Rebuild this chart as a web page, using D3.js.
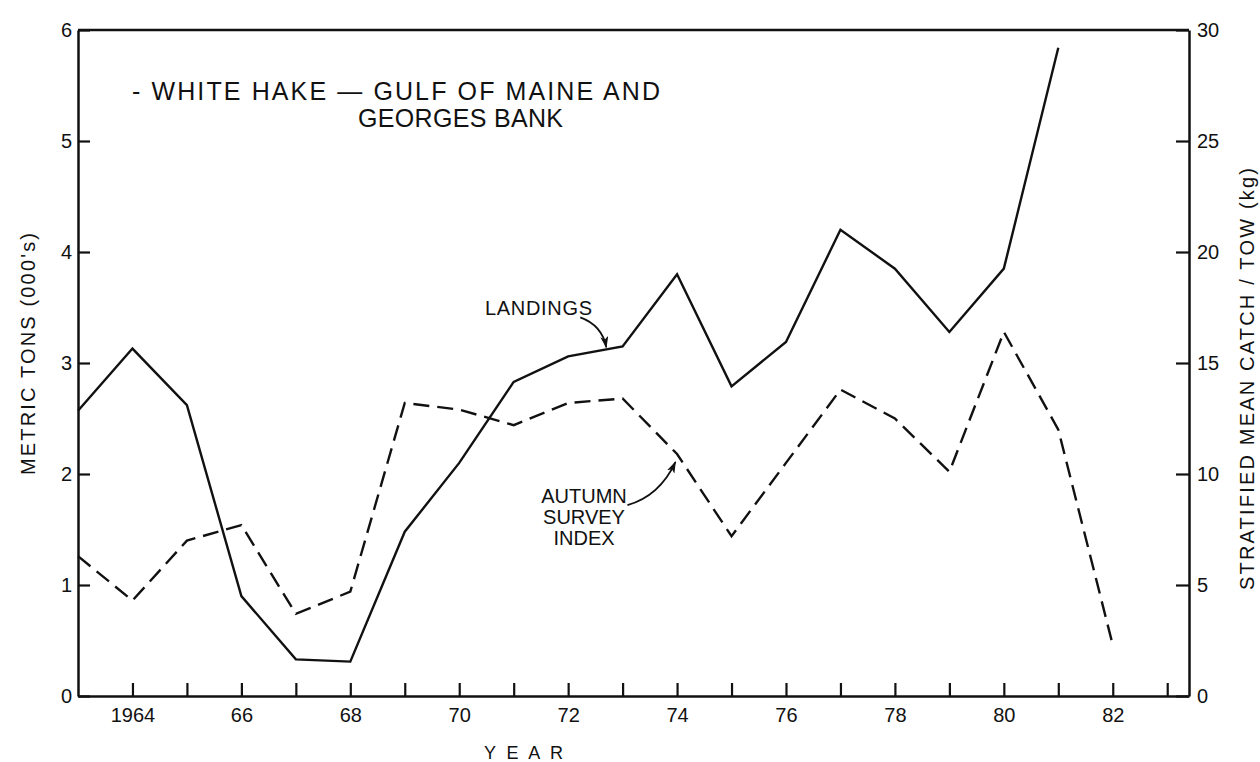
<!DOCTYPE html>
<html>
<head>
<meta charset="utf-8">
<script src="https://cdn.jsdelivr.net/npm/d3@7"></script>
<style>
  html, body { margin: 0; padding: 0; background: #fff; }
  svg text { font-family: "Liberation Sans", Arial, sans-serif; fill: #111; }
</style>
</head>
<body>
<svg id="chart" width="1260" height="762"></svg>
<script>
// ---- data ----
const landingYears = [1963,1964,1965,1966,1967,1968,1969,1970,1971,1972,1973,1974,1975,1976,1977,1978,1979,1980,1981];
const landings     = [2.57,3.13,2.62,0.90,0.33,0.31,1.48,2.10,2.83,3.06,3.15,3.80,2.79,3.19,4.20,3.85,3.28,3.85,5.84];

const surveyYears  = [1963,1964,1965,1966,1967,1968,1969,1970,1971,1972,1973,1974,1975,1976,1977,1978,1979,1980,1981,1982];
const surveyIndex  = [6.3,4.3,7.0,7.7,3.7,4.7,13.2,12.9,12.2,13.2,13.4,10.9,7.2,10.5,13.8,12.5,10.1,16.4,12.0,2.3];

const leftTicks   = [0,1,2,3,4,5,6];
const rightTicks  = [0,5,10,15,20,25,30];
const xTickYears  = [1964,1965,1966,1967,1968,1969,1970,1971,1972,1973,1974,1975,1976,1977,1978,1979,1980,1981,1982,1983];
const xTickLabels = ["1964","","66","","68","","70","","72","","74","","76","","78","","80","","82",""];

const titleLines   = ["- WHITE HAKE \u2014 GULF OF MAINE AND", "GEORGES BANK"];
const leftTitle    = "METRIC TONS (000's)";
const rightTitle   = "STRATIFIED MEAN CATCH / TOW (kg)";
const xTitle       = "Y E A R";
const landingLabel = "LANDINGS";
const surveyLabel  = ["AUTUMN", "SURVEY", "INDEX"];

// ---- scales ----
const svg = d3.select("#chart");
const x  = d3.scaleLinear().domain([1963, 1983.4]).range([78, 1189]);
const yL = d3.scaleLinear().domain([0, 6]).range([696, 30]);
const yR = d3.scaleLinear().domain([0, 30]).range([696, 30]);

const AX_W = 2.5;

// ---- axes ----
const gLeft = svg.append("g").attr("transform", `translate(${x.range()[0]},0)`)
  .call(d3.axisLeft(yL).tickValues(leftTicks).tickFormat(d3.format("d"))
        .tickSizeInner(-12).tickSizeOuter(0).tickPadding(6));
const gRight = svg.append("g").attr("transform", `translate(${x.range()[1]},0)`)
  .call(d3.axisRight(yR).tickValues(rightTicks).tickFormat(d3.format("d"))
        .tickSizeInner(-13).tickSizeOuter(0).tickPadding(8));
const gBottom = svg.append("g").attr("transform", `translate(0,${yL(0)})`)
  .call(d3.axisBottom(x).tickValues(xTickYears).tickFormat((d, i) => xTickLabels[i])
        .tickSizeInner(-13).tickSizeOuter(0).tickPadding(12));

[gLeft, gRight, gBottom].forEach(g => {
  g.select(".domain").attr("stroke", "#111").attr("stroke-width", AX_W);
  g.selectAll(".tick line").attr("stroke", "#111").attr("stroke-width", 2.2);
  g.selectAll(".tick text").attr("font-size", 20).attr("fill", "#111")
    .style("font-family", '"Liberation Sans", Arial, sans-serif');
});

// top frame line
svg.append("line")
  .attr("x1", x.range()[0]).attr("x2", x.range()[1])
  .attr("y1", yL(6)).attr("y2", yL(6))
  .attr("stroke", "#111").attr("stroke-width", AX_W);

// ---- series ----
const lineL = d3.line().x((d, i) => x(landingYears[i])).y(d => yL(d));
const lineR = d3.line().x((d, i) => x(surveyYears[i])).y(d => yR(d));

svg.append("path").datum(landings)
  .attr("d", lineL).attr("fill", "none")
  .attr("stroke", "#111").attr("stroke-width", 2.4).attr("stroke-linejoin", "miter");

svg.append("path").datum(surveyIndex)
  .attr("d", lineR).attr("fill", "none")
  .attr("stroke", "#111").attr("stroke-width", 2.4)
  .attr("stroke-dasharray", "16,8").attr("stroke-linejoin", "miter");

// ---- titles ----
svg.append("text").attr("x", 132).attr("y", 100).attr("font-size", 25)
  .attr("textLength", 528).attr("lengthAdjust", "spacing").text(titleLines[0]);
svg.append("text").attr("x", 358).attr("y", 127).attr("font-size", 25)
  .attr("textLength", 205).attr("lengthAdjust", "spacing").text(titleLines[1]);

svg.append("text").attr("transform", "translate(35,354) rotate(-90)")
  .attr("text-anchor", "middle").attr("font-size", 20)
  .attr("textLength", 242).attr("lengthAdjust", "spacing").text(leftTitle);

svg.append("text").attr("transform", "translate(1254,379) rotate(-90)")
  .attr("text-anchor", "middle").attr("font-size", 20)
  .attr("textLength", 422).attr("lengthAdjust", "spacing").text(rightTitle);

svg.append("text").attr("x", 484).attr("y", 759).attr("font-size", 18)
  .attr("textLength", 79).attr("lengthAdjust", "spacing").text(xTitle);

// ---- annotations ----
const defs = svg.append("defs");
defs.append("marker").attr("id", "ah").attr("viewBox", "0 0 12 8")
  .attr("refX", 11).attr("refY", 4).attr("markerWidth", 12).attr("markerHeight", 8)
  .attr("markerUnits", "userSpaceOnUse").attr("orient", "auto")
  .append("path").attr("d", "M0,0 L12,4 L0,8 L3,4 Z").attr("fill", "#111");

svg.append("text").attr("x", 485).attr("y", 315).attr("font-size", 20)
  .attr("textLength", 107).attr("lengthAdjust", "spacing").text(landingLabel);

// landings arrow: tip on the landings line between 1972 and 1973
const tipYear = 1972.7;
const tipVal = landings[9] + (landings[10] - landings[9]) * (tipYear - 1972);
const lx = x(tipYear), ly = yL(tipVal) - 2;
svg.append("path")
  .attr("d", `M${lx - 26},${ly - 30} Q${lx - 4},${ly - 22} ${lx},${ly}`)
  .attr("fill", "none").attr("stroke", "#111").attr("stroke-width", 1.8)
  .attr("marker-end", "url(#ah)");

surveyLabel.forEach((t, i) => {
  svg.append("text").attr("x", 584).attr("y", 503 + i * 21)
    .attr("text-anchor", "middle").attr("font-size", 20).text(t);
});

// survey arrow: tip just below the 1974 survey vertex
const sx = x(1973.97), sy = yR(surveyIndex[11]) + 8;
svg.append("path")
  .attr("d", `M${sx - 48},${sy + 43} Q${sx - 16},${sy + 34} ${sx},${sy}`)
  .attr("fill", "none").attr("stroke", "#111").attr("stroke-width", 1.8)
  .attr("marker-end", "url(#ah)");
</script>
</body>
</html>
